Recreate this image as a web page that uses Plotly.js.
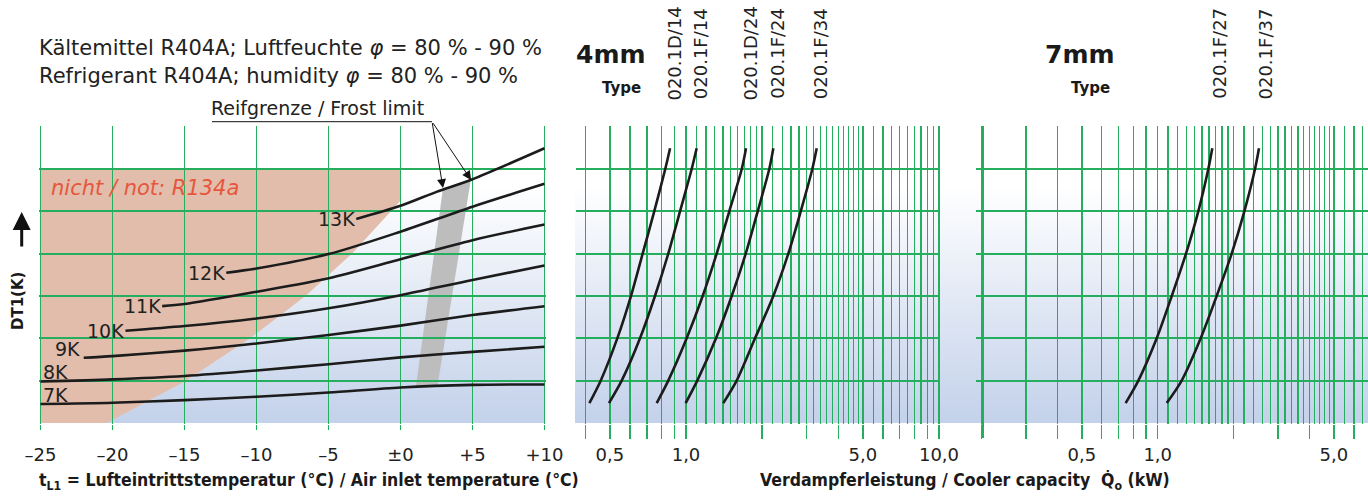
<!DOCTYPE html>
<html><head><meta charset="utf-8">
<script src="https://cdn.plot.ly/plotly-3.0.1.min.js"></script>
<style>html,body{margin:0;padding:0;background:#fff}#chart{width:1368px;height:497px}</style>
</head><body><div id="chart"></div>
<script>
// ---------------- data ----------------
const tempTicks = [-25, -20, -15, -10, -5, 0, 5, 10];
const tempTickText = ['–25', '–20', '–15', '–10', '–5', '±0', '+5', '+10'];

const dtLabels = ['7K', '8K', '9K', '10K', '11K', '12K', '13K'];
const dt7T = [-25, -20, -15, -10, -5, 0, 5, 10];
const dt7Y = [0.45, 0.48, 0.54, 0.62, 0.72, 0.84, 0.90, 0.91];
const dt8T = [-25, -20, -15, -10, -5, 0, 5, 10];
const dt8Y = [0.98, 1.03, 1.11, 1.24, 1.39, 1.55, 1.68, 1.80];
const dt9T = [-22.0, -20, -15, -10, -5, 0, 5, 10];
const dt9Y = [1.54, 1.58, 1.71, 1.88, 2.08, 2.30, 2.55, 2.76];
const dt10T = [-19.1, -15, -10, -5, 0, 5, 10];
const dt10Y = [2.18, 2.29, 2.47, 2.71, 3.02, 3.38, 3.72];
const dt11T = [-16.55, -15, -10, -5, 0, 5, 10];
const dt11Y = [2.76, 2.81, 3.10, 3.42, 3.87, 4.32, 4.69];
const dt12T = [-12.1, -10, -5, 0, 5, 10];
const dt12Y = [3.55, 3.65, 3.99, 4.52, 5.11, 5.65];
const dt13T = [-3.07, 0, 2.5, 5, 10];
const dt13Y = [4.82, 5.13, 5.46, 5.76, 6.49];

// region "nicht / not: R134a"
const r134aT = [-25, 0, 0, -0.66, -3.38, -6.6, -10.45, -14.9, -20.4, -25];
const r134aY = [6, 6, 5.25, 5.0, 4.0, 3.0, 2.0, 1.0, 0, 0];
// frost limit band
const frostT = [1.08, 2.57, 4.88, 2.94];
const frostY = [0.88, 0.88, 5.74, 5.52];

// capacity curves (kW) at DT1 levels
const capDT = [0.47, 1, 2, 3, 4, 5, 6, 6.49];
const types4mm = ['020.1D/14', '020.1F/14', '020.1D/24', '020.1F/24', '020.1F/34'];
const q_D14 = [0.415, 0.460, 0.535, 0.606, 0.674, 0.749, 0.828, 0.865];
const q_F14 = [0.496, 0.557, 0.658, 0.754, 0.851, 0.947, 1.053, 1.102];
const q_D24 = [0.766, 0.851, 1.006, 1.164, 1.322, 1.483, 1.661, 1.727];
const q_F24 = [0.997, 1.108, 1.314, 1.516, 1.722, 1.920, 2.134, 2.214];
const q_F34 = [1.404, 1.586, 1.874, 2.214, 2.537, 2.841, 3.157, 3.286];
const types7mm = ['020.1F/27', '020.1F/37'];
const q_F27 = [0.746, 0.838, 0.991, 1.137, 1.295, 1.449, 1.588, 1.647];
const q_F37 = [1.086, 1.245, 1.481, 1.714, 1.966, 2.207, 2.433, 2.523];

// capacity axis ticks / grid
const cap4Ticks = [0.4, 0.5, 0.6, 0.7, 0.8, 0.9, 1, 2, 3, 4, 5, 6, 7, 8, 9, 10];
const cap4Text = ['', '0,5', '', '', '', '', '1,0', '', '', '', '5,0', '', '', '', '', '10,0'];
const cap7Ticks = [0.2, 0.3, 0.4, 0.5, 0.6, 0.7, 0.8, 0.9, 1, 2, 3, 4, 5, 6];
const cap7Text = ['', '', '', '0,5', '', '', '', '', '1,0', '', '', '', '5,0', ''];
const capMinor = [1.1, 1.2, 1.3, 1.4, 1.5, 1.6, 1.7, 1.8, 1.9, 2.2, 2.4, 2.6, 2.8,
  3.2, 3.4, 3.6, 3.8, 4.2, 4.4, 4.6, 4.8, 5.5, 6.5, 7.5, 8.5, 9.5];

// ---------------- style / layout ----------------
const W = 1368, H = 497;
const SANS = '"DejaVu Sans", sans-serif';
const NARROW = '"Liberation Sans Narrow", "DejaVu Sans Condensed", sans-serif';
const GREEN = '#25ae5e';
const BLUE = '#c3d1ea';
const SALMON = '#e2bdab';
const INK = '#1c1c1c';
const px = p => p / W;
const py = p => 1 - p / H;

const yDom = [py(423.85), py(125.85)];
const yRange = [-0.02, 7.02];
const leftDom = [px(39.06), px(545.94)];
const leftRange = [-25.1, 10.1];
const midDom = [px(576), px(940)];
const midRange = [-0.4348, 1.004];
const rightDom = [px(976), 1];
const rightRange = [-0.721, 0.8345];

const traces = [];
// background subplot (drawn first, below grids)
traces.push({x: [-25, 10, 10, -25], y: [0, 0, 7, 7], xaxis: 'x', yaxis: 'y', mode: 'none', fill: 'toself',
  fillgradient: {type: 'vertical', colorscale: [[0, BLUE], [0.8, '#ffffff'], [1, '#ffffff']]}, hoverinfo: 'skip'});
traces.push({x: r134aT, y: r134aY, xaxis: 'x', yaxis: 'y', mode: 'none', fill: 'toself', fillcolor: SALMON, hoverinfo: 'skip'});
traces.push({x: frostT, y: frostY, xaxis: 'x', yaxis: 'y', mode: 'none', fill: 'toself', fillcolor: '#bdbdbd', hoverinfo: 'skip'});
traces.push({x: [0, 1, 1, 0], y: [0, 0, 7, 7], xaxis: 'x2', yaxis: 'y2', mode: 'none', fill: 'toself',
  fillgradient: {type: 'vertical', colorscale: [[0, BLUE], [0.8, '#ffffff'], [1, '#ffffff']]}, hoverinfo: 'skip'});

const lineStyle = {color: INK, width: 2.6, shape: 'spline', smoothing: 0.8};
const dtSeries = [[dt7T, dt7Y], [dt8T, dt8Y], [dt9T, dt9Y], [dt10T, dt10Y], [dt11T, dt11Y], [dt12T, dt12Y], [dt13T, dt13Y]];
dtSeries.forEach((s, i) => traces.push({x: s[0], y: s[1], name: dtLabels[i], xaxis: 'x3', yaxis: 'y3', mode: 'lines', line: lineStyle}));
const mid = [q_D14, q_F14, q_D24, q_F24, q_F34];
mid.forEach((q, i) => traces.push({x: q, y: capDT, name: types4mm[i], xaxis: 'x4', yaxis: 'y4', mode: 'lines', line: lineStyle}));
const right = [q_F27, q_F37];
right.forEach((q, i) => traces.push({x: q, y: capDT, name: types7mm[i], xaxis: 'x5', yaxis: 'y5', mode: 'lines', line: lineStyle}));

const hidden = {visible: false, fixedrange: true};
const gridY = {range: yRange, domain: yDom, tickmode: 'linear', tick0: 0, dtick: 1, showgrid: true, gridcolor: GREEN, gridwidth: 2,
  showticklabels: false, ticks: '', zeroline: false, showline: false};
const tickFont = {family: SANS, size: 18, color: '#222'};
const capAxis = (dom, rng, ticks, text, anchor) => ({domain: dom, range: rng, type: 'log', anchor: anchor,
  tickmode: 'array', tickvals: ticks, ticktext: text, ticks: 'outside', ticklen: 14, tickcolor: GREEN, tickwidth: 1.4,
  showgrid: true, gridcolor: GREEN, gridwidth: 1.4, zeroline: false, showline: false, tickfont: tickFont, ticklabelstandoff: 1,
  minor: {tickmode: 'array', tickvals: capMinor, showgrid: true, gridcolor: GREEN, gridwidth: 1.3, ticks: ''}});

const ann = [];
const txt = (text, x, y, size, opts) => Object.assign({text: text, x: x, y: y, xref: 'paper', yref: 'paper', showarrow: false,
  font: {family: SANS, size: size, color: '#222'}, xanchor: 'left', yanchor: 'middle'}, opts || {});
ann.push(txt('Kältemittel R404A; Luftfeuchte <i>φ</i> = 80 % - 90 %', px(37), py(48), 21));
ann.push(txt('Refrigerant R404A; humidity <i>φ</i> = 80 % - 90 %', px(37), py(76), 21));
ann.push(txt('Reifgrenze / Frost limit', px(209), py(108), 19));
ann.push(txt('<b>4mm</b>', px(611), py(55), 25, {xanchor: 'center', font: {family: SANS, size: 25, color: '#1a1a1a'}}));
ann.push(txt('<b>Type</b>', px(621), py(88), 15, {xanchor: 'center', font: {family: SANS, size: 15, color: '#1a1a1a'}}));
ann.push(txt('<b>7mm</b>', px(1080), py(55), 25, {xanchor: 'center', font: {family: SANS, size: 25, color: '#1a1a1a'}}));
ann.push(txt('<b>Type</b>', px(1090), py(88), 15, {xanchor: 'center', font: {family: SANS, size: 15, color: '#1a1a1a'}}));
ann.push(txt('<b>DT1(K)</b>', px(18), py(301), 15, {xanchor: 'center', textangle: -90, font: {family: SANS, size: 15, color: '#1a1a1a'}}));
ann.push(txt('<b>t<sub>L1</sub> = Lufteintrittstemperatur (°C) / Air inlet temperature (°C)</b>', px(37), py(481), 17.5,
  {font: {family: NARROW, size: 17.5, color: '#1a1a1a'}}));
ann.push(txt('<b>Verdampferleistung / Cooler capacity  Q̇<sub>o</sub> (kW)</b>', px(965), py(481), 17.5,
  {xanchor: 'center', font: {family: NARROW, size: 17.5, color: '#1a1a1a'}}));
// DT1 arrow
ann.push({x: px(21.7), y: py(212), xref: 'paper', yref: 'paper', text: '', showarrow: true, ax: 0, ay: 36,
  arrowhead: 2, arrowsize: 1.2, arrowwidth: 3, arrowcolor: '#111', standoff: 0});
// frost arrows
[[2.95, 5.55], [4.90, 5.74]].forEach(p => ann.push({x: p[0], y: p[1], xref: 'x3', yref: 'y3', axref: 'x3', ayref: 'y3',
  ax: 2.19, ay: 7.12, text: '', showarrow: true, arrowhead: 2, arrowsize: 1.8, arrowwidth: 1, arrowcolor: '#111', standoff: 0}));
// region label
ann.push({text: '<i>nicht / not: R134a</i>', x: -24.4, y: 5.55, xref: 'x3', yref: 'y3', showarrow: false, xanchor: 'left',
  yanchor: 'middle', font: {family: SANS, size: 21, color: '#e5573c'}});
// curve labels (anchored at the start of each curve)
const lblFont = {family: SANS, size: 19, color: '#222'};
dtSeries.forEach((s, i) => {
  const a = {text: dtLabels[i], x: s[0][0], y: s[1][0], xref: 'x3', yref: 'y3', showarrow: false,
    xanchor: 'right', yanchor: 'middle', font: lblFont, xshift: 1, height: 18};
  if (i === 0) { a.xanchor = 'left'; a.xshift = 0; a.yshift = 9; }
  if (i === 1) { a.xanchor = 'left'; a.xshift = 0; a.yshift = 9.5; }
  if (i === 2) { a.xshift = -2; a.yshift = 9; }
  ann.push(a);
});
// type labels above each curve
mid.forEach((q, i) => ann.push({text: types4mm[i], x: Math.log10(q[q.length - 1]), y: py(53.5), xref: 'x4', yref: 'paper',
  showarrow: false, textangle: -90, xanchor: 'center', yanchor: 'middle', xshift: 4, font: {family: SANS, size: 18, color: '#222'}}));
right.forEach((q, i) => ann.push({text: types7mm[i], x: Math.log10(q[q.length - 1]), y: py(53.5), xref: 'x5', yref: 'paper',
  showarrow: false, textangle: -90, xanchor: 'center', yanchor: 'middle', xshift: 7, font: {family: SANS, size: 18, color: '#222'}}));

const shapes = [
  {type: 'line', xref: 'paper', yref: 'paper', x0: px(212), x1: px(432), y0: py(121.7), y1: py(121.7), line: {color: '#111', width: 1}},
  {type: 'line', xref: 'paper', yref: 'paper', x0: px(982.7), x1: px(982.7), y0: py(126), y1: py(438), line: {color: GREEN, width: 2.6}}
];

const layout = {
  width: W, height: H, margin: {l: 0, r: 0, t: 0, b: 0}, paper_bgcolor: '#fff', plot_bgcolor: 'rgba(0,0,0,0)',
  showlegend: false, font: {family: SANS, color: '#222'},
  xaxis: Object.assign({domain: leftDom, range: leftRange, anchor: 'y'}, hidden),
  yaxis: Object.assign({domain: yDom, range: yRange, anchor: 'x'}, hidden),
  xaxis2: Object.assign({domain: [px(575), 1], range: [0, 1], anchor: 'y2'}, hidden),
  yaxis2: Object.assign({domain: yDom, range: yRange, anchor: 'x2'}, hidden),
  xaxis3: {domain: leftDom, range: leftRange, anchor: 'y3', tickmode: 'array', tickvals: tempTicks, ticktext: tempTickText,
    ticks: 'outside', ticklen: 5, tickcolor: GREEN, tickwidth: 1.5, showgrid: true, gridcolor: GREEN, gridwidth: 1.5,
    zeroline: false, showline: false, tickfont: tickFont, ticklabelstandoff: 10},
  yaxis3: Object.assign({anchor: 'x3'}, gridY),
  xaxis4: capAxis(midDom, midRange, cap4Ticks, cap4Text, 'y4'),
  yaxis4: Object.assign({anchor: 'x4'}, gridY),
  xaxis5: capAxis(rightDom, rightRange, cap7Ticks, cap7Text, 'y5'),
  yaxis5: Object.assign({anchor: 'x5'}, gridY),
  annotations: ann, shapes: shapes
};

Plotly.newPlot('chart', traces, layout, {staticPlot: true, displayModeBar: false});
</script></body></html>
